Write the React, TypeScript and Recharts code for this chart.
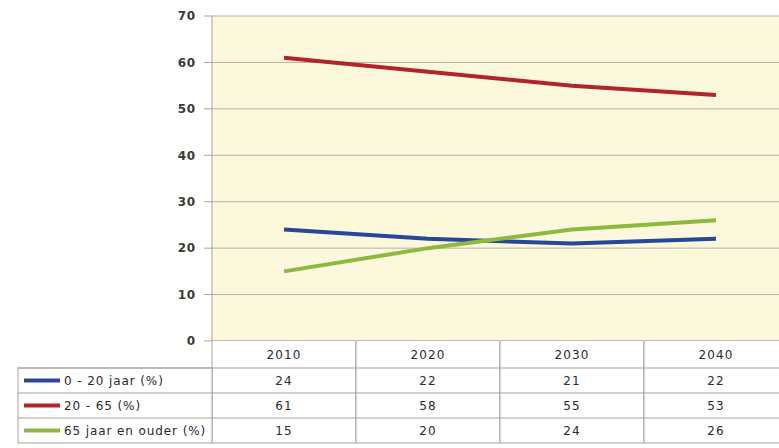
import React from "react";
import { LineChart, Line, XAxis, YAxis, CartesianGrid } from "recharts";

// categorieën en reeksen (uit de tabel onder de grafiek)
const jaren = ["2010", "2020", "2030", "2040"];
const jong = [24, 22, 21, 22];
const werkend = [61, 58, 55, 53];
const ouder = [15, 20, 24, 26];
const yTicks = [0, 10, 20, 30, 40, 50, 60, 70];

const reeksen = [
  { key: "jong", naam: "0 - 20 jaar (%)", kleur: "#27479a", waarden: jong },
  { key: "werkend", naam: "20 - 65 (%)", kleur: "#b3242a", waarden: werkend },
  { key: "ouder", naam: "65 jaar en ouder (%)", kleur: "#8cba3e", waarden: ouder },
];

const data = jaren.map((jaar, i) => ({
  jaar,
  jong: jong[i],
  werkend: werkend[i],
  ouder: ouder[i],
}));

const LIJN = "#aaa196";
const TEKST = "#2a2a2a";
const KOLOM = 144; // breedte van een jaarkolom
const KOP = 27; // hoogte kopregel
const RIJ = 25; // hoogte datarij
const LINKS = 194; // breedte van de legendakolom

function TabelTick(props: any) {
  const { x, y, payload } = props;
  const i = jaren.indexOf(payload.value);
  const x0 = x - KOLOM / 2;
  const x1 = x + KOLOM / 2;
  const onder = y + KOP + RIJ * reeksen.length;
  return (
    <g fontFamily="DejaVu Sans, sans-serif" fontSize={12} fill={TEKST} letterSpacing={1.1}>
      <rect x={x0} y={y} width={KOLOM} height={onder - y} fill="#fff" />
      <line x1={x0} x2={x0} y1={y} y2={onder} stroke={LIJN} />
      <line x1={x1} x2={x1} y1={y} y2={onder} stroke={LIJN} />
      <text x={x} y={y + KOP / 2} textAnchor="middle" dominantBaseline="central">
        {payload.value}
      </text>
      {reeksen.map((r, j) => {
        const top = y + KOP + RIJ * j;
        return (
          <g key={r.key}>
            <line x1={x0} x2={x1} y1={top} y2={top} stroke={LIJN} />
            <text x={x} y={top + RIJ / 2} textAnchor="middle" dominantBaseline="central">
              {r.waarden[i]}
            </text>
          </g>
        );
      })}
      <line x1={x0} x2={x1} y1={onder} y2={onder} stroke={LIJN} />
      {i === 0 && (
        <g>
          <rect x={x0 - LINKS} y={y + KOP} width={LINKS} height={RIJ * reeksen.length} fill="#fff" stroke={LIJN} />
          {reeksen.map((r, j) => {
            const midden = y + KOP + RIJ * j + RIJ / 2;
            return (
              <g key={r.key}>
                <line x1={x0 - LINKS} x2={x0} y1={midden - RIJ / 2} y2={midden - RIJ / 2} stroke={LIJN} />
                <line x1={x0 - LINKS + 6} x2={x0 - LINKS + 42} y1={midden} y2={midden} stroke={r.kleur} strokeWidth={4} />
                <text x={x0 - LINKS + 46} y={midden} dominantBaseline="central" letterSpacing={0.9}>
                  {r.naam}
                </text>
              </g>
            );
          })}
        </g>
      )}
    </g>
  );
}

export default function App() {
  return (
    <div style={{ position: "absolute", left: 0, top: 0, width: 779, height: 448, overflow: "hidden", background: "#fff" }}>
      <LineChart width={800} height={448} data={data} margin={{ top: 16, right: 12, left: 150, bottom: 5 }}>
        <CartesianGrid vertical={false} stroke="#b9b1a2" fill="#fcf8dc" />
        <XAxis
          dataKey="jaar"
          padding={{ left: KOLOM / 2, right: KOLOM / 2 }}
          height={102}
          tickSize={0}
          tickMargin={0}
          axisLine={{ stroke: LIJN }}
          tickLine={false}
          tick={<TabelTick />}
          interval={0}
        />
        <YAxis
          domain={[0, 70]}
          ticks={yTicks}
          width={62}
          tickSize={8}
          tickMargin={8}
          axisLine={{ stroke: LIJN }}
          tickLine={{ stroke: LIJN }}
          tick={{ fontSize: 12, fontWeight: "bold", fill: "#3a3a3a", letterSpacing: 0.8, fontFamily: "DejaVu Sans, sans-serif" }}
        />
        {reeksen.map((r) => (
          <Line
            key={r.key}
            dataKey={r.key}
            stroke={r.kleur}
            strokeWidth={4}
            dot={false}
            activeDot={false}
            isAnimationActive={false}
          />
        ))}
      </LineChart>
    </div>
  );
}
